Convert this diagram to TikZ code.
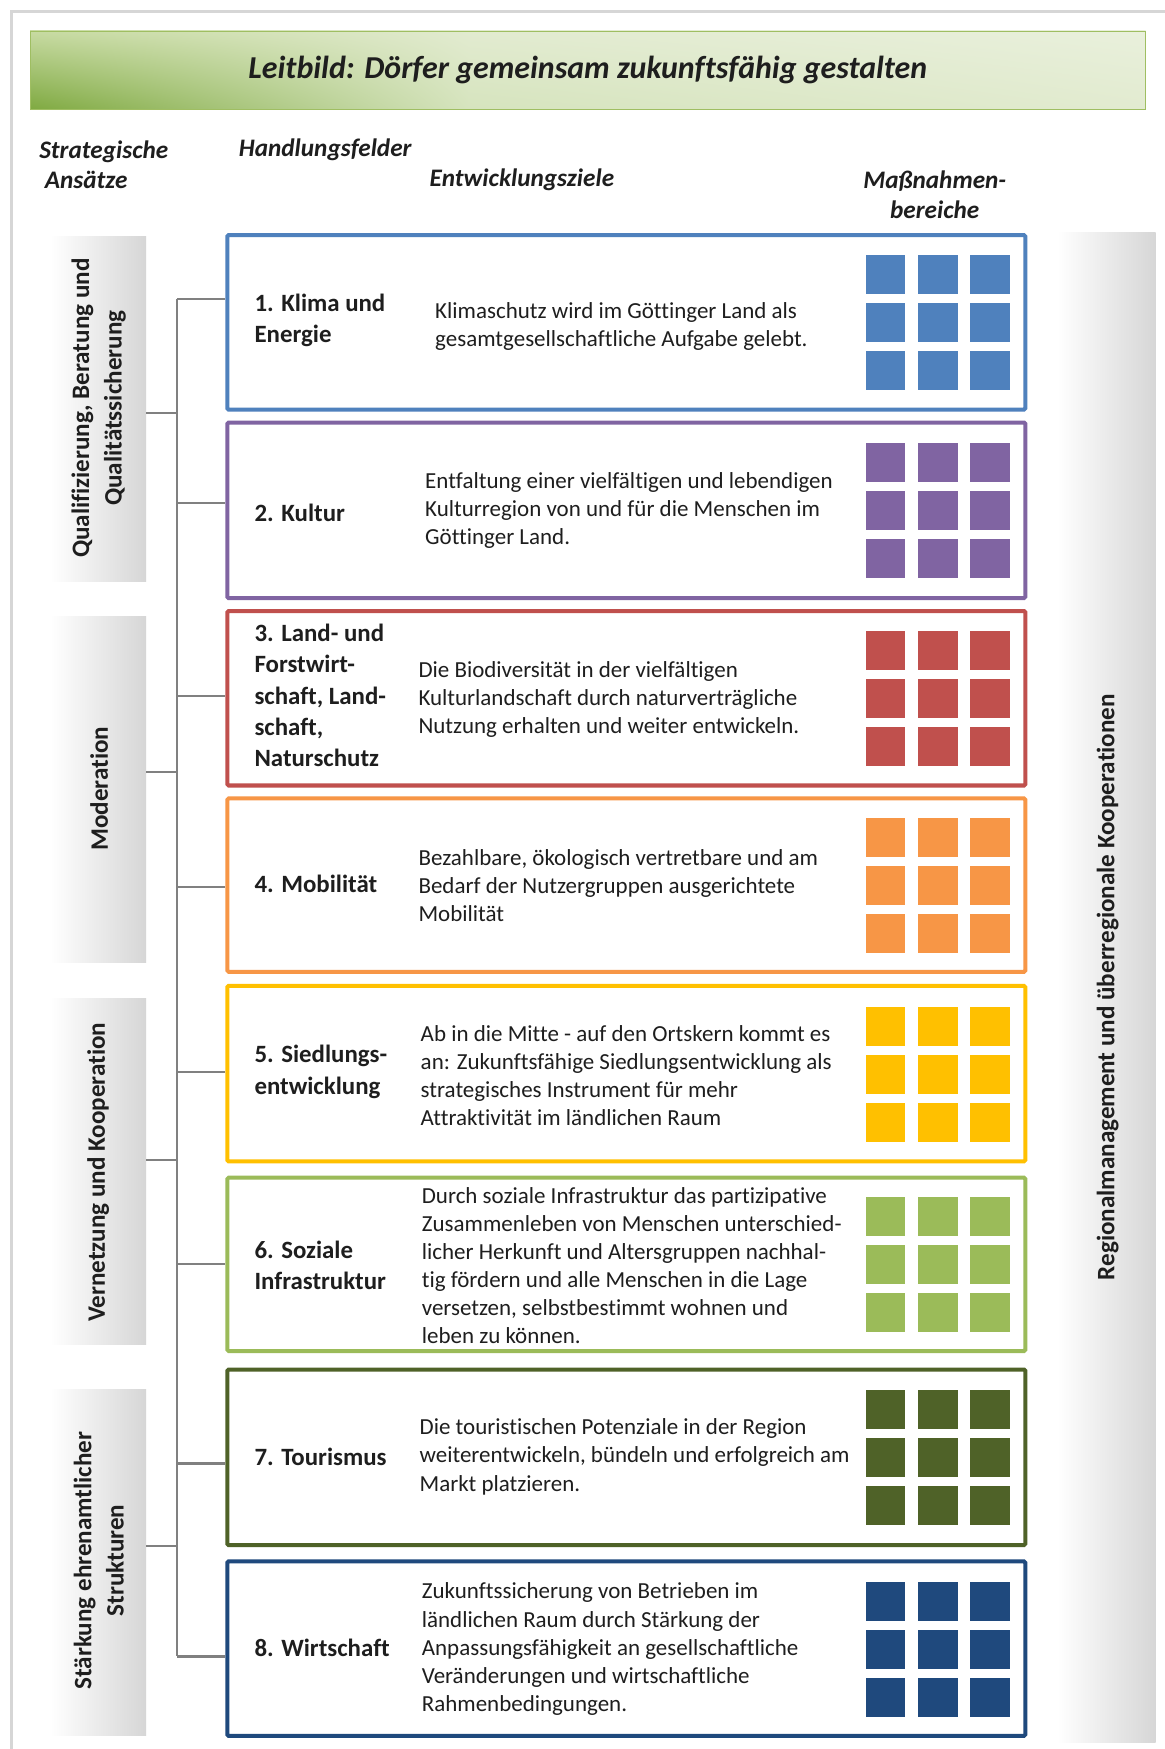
\documentclass[tikz,border=0pt]{standalone}
\usepackage{fontspec}
\setmainfont{Carlito}[Ligatures=NoCommon]
\usetikzlibrary{shadings}
\definecolor{c1}{HTML}{4F81BD}
\definecolor{c2}{HTML}{8064A2}
\definecolor{c3}{HTML}{C0504D}
\definecolor{c4}{HTML}{F79646}
\definecolor{c5}{HTML}{FFC000}
\definecolor{c6}{HTML}{9BBB59}
\definecolor{c7}{HTML}{4F6228}
\definecolor{c8}{HTML}{1F497D}
\definecolor{framegray}{HTML}{D6D6D6}
\definecolor{treegray}{HTML}{808080}
\definecolor{bannerline}{HTML}{9FBE62}
\definecolor{txt}{HTML}{1E1E1E}
\definecolor{barright}{HTML}{D6D6D6}
\definecolor{gUL}{HTML}{C8DBA3}
\definecolor{gLL}{HTML}{80AA42}
\definecolor{gMU}{HTML}{E2EBD0}
\definecolor{gML}{HTML}{D6E4BE}
\definecolor{gUR}{HTML}{E9F0DC}
\definecolor{gLR}{HTML}{E2EBD0}
\tikzset{
  hbox/.style={rectangle, line width=3.6bp, rounded corners=1.2bp, minimum width=715.4bp, inner sep=0pt, fill=white},
  bodytxt/.style={anchor=west, align=left, inner sep=0pt, text=txt, font=\fontsize{20.6bp}{25.2bp}\selectfont},
  labeltxt/.style={anchor=west, align=left, inner sep=0pt, text=txt, font=\fontsize{22.3bp}{28bp}\selectfont\bfseries},
  headtxt/.style={inner sep=0pt, text=txt, font=\fontsize{22.6bp}{27bp}\selectfont\bfseries\itshape},
  sidebar/.style={rectangle, inner sep=0pt, left color=white, right color=barright, minimum width=86bp},
  sidetxt/.style={rotate=90, align=center, inner sep=0pt, text=txt, font=\fontsize{22.5bp}{29bp}\selectfont\bfseries},
  tree/.style={draw=treegray, line width=2bp}
}
\begin{document}
\begin{tikzpicture}[x=1bp,y=-1bp]
\useasboundingbox (0,0) rectangle (1044,1568);
\fill[white] (0,0) rectangle (1044,1568);
% outer frame
\draw[framegray, line width=2.6bp] (1044,10.5) -- (10.5,10.5) -- (10.5,1568);
% banner
\shade[upper left=gUL, lower left=gLL, upper right=gMU, lower right=gML] (27,27) rectangle (420,97);
\shade[upper left=gMU, lower left=gML, upper right=gUR, lower right=gLR] (419.5,27) rectangle (1027,97);
\node[draw=bannerline, line width=1bp, minimum width=1000bp, minimum height=70bp, inner sep=0pt,
      text=txt, font=\fontsize{28.6bp}{32bp}\selectfont\bfseries\itshape] (title) at (527,63)
  {Leitbild: Dörfer gemeinsam zukunftsfähig gestalten};
% column headers
\node[headtxt, anchor=west, align=left] (h1) at (35,147.5) {Strategische\\\hspace*{5bp}Ansätze};
\node[headtxt, anchor=west] (h2) at (214,134) {Handlungsfelder};
\node[headtxt, anchor=west] (h3) at (385,161) {Entwicklungsziele};
\node[headtxt, align=center] (h4) at (838,174.5) {Maßnahmen-\\bereiche};
% side bars
\node[sidebar, minimum height=309bp] (s1) at (88,366.5) {};
\node[sidebar, minimum height=310bp] (s2) at (88,708) {};
\node[sidebar, minimum height=310bp] (s3) at (88,1050) {};
\node[sidebar, minimum height=310bp] (s4) at (88,1401) {};
\node[sidetxt] (st1) at (88.5,366) {Qualifizierung, Beratung und\\Qualitätssicherung};
\node[sidetxt] (st2) at (89,707) {Moderation};
\node[sidetxt] (st3) at (88,1051) {Vernetzung und Kooperation};
\node[sidetxt] (st4) at (88.5,1399) {Stärkung ehrenamtlicher\\Strukturen};
% right bar
\node[rectangle, inner sep=0pt, left color=white, right color=barright, minimum width=88bp, minimum height=1354bp] (rb) at (992,885) {};
\node[sidetxt] (rbt) at (993,885) {Regionalmanagement und überregionale Kooperationen};
% boxes
\foreach \i/\cy/\h in {1/289/156.4, 2/457.5/157.4, 3/626/156.4, 4/793.5/155.4, 5/962.5/157.4, 6/1133.5/155.4, 7/1306.5/157.4, 8/1478/156.4}{
  \node[hbox, draw=c\i, minimum height=\h bp] (b\i) at (561.5,\cy) {};
  \foreach \dx in {776,823,870}{
    \foreach \dy in {-60,-17,26}{
      \fill[c\i] (\dx,\cy+\dy) rectangle ++(35.5,35);
    }
  }
}
% labels
\node[labeltxt] (l1) at (228,287.5) {1. Klima und\\Energie};
\node[labeltxt] (l2) at (228,460) {2. Kultur};
\node[labeltxt] (l3) at (228,623.5) {3. Land- und\\Forstwirt-\\schaft, Land-\\schaft,\\Naturschutz};
\node[labeltxt] (l4) at (228,792) {4. Mobilität};
\node[labeltxt] (l5) at (228,961) {5. Siedlungs-\\entwicklung};
\node[labeltxt] (l6) at (228,1134.5) {6. Soziale\\Infrastruktur};
\node[labeltxt] (l7) at (228,1306) {7. Tourismus};
\node[labeltxt] (l8) at (228,1477) {8. Wirtschaft};
% descriptions
\node[bodytxt] (d1) at (390,293) {Klimaschutz wird im Göttinger Land als\\gesamtgesellschaftliche Aufgabe gelebt.};
\node[bodytxt] (d2) at (381,458) {Entfaltung einer vielfältigen und lebendigen\\Kulturregion von und für die Menschen im\\Göttinger Land.};
\node[bodytxt] (d3) at (375,627) {Die Biodiversität in der vielfältigen\\Kulturlandschaft durch naturverträgliche\\Nutzung erhalten und weiter entwickeln.};
\node[bodytxt] (d4) at (375,794) {Bezahlbare, ökologisch vertretbare und am\\Bedarf der Nutzergruppen ausgerichtete\\Mobilität};
\node[bodytxt] (d5) at (377,964.5) {Ab in die Mitte - auf den Ortskern kommt es\\an: Zukunftsfähige Siedlungsentwicklung als\\strategisches Instrument für mehr\\Attraktivität im ländlichen Raum};
\node[bodytxt] (d6) at (378,1134.5) {Durch soziale Infrastruktur das partizipative\\Zusammenleben von Menschen unterschied-\\licher Herkunft und Altersgruppen nachhal-\\tig fördern und alle Menschen in die Lage\\versetzen, selbstbestimmt wohnen und\\leben zu können.};
\node[bodytxt] (d7) at (376,1306) {Die touristischen Potenziale in der Region\\weiterentwickeln, bündeln und erfolgreich am\\Markt platzieren.};
\node[bodytxt] (d8) at (378,1478.5) {Zukunftssicherung von Betrieben im\\ländlichen Raum durch Stärkung der\\Anpassungsfähigkeit an gesellschaftliche\\Veränderungen und wirtschaftliche\\Rahmenbedingungen.};
% tree connectors
\coordinate (t1) at (158.5,268);
\coordinate (t2) at (158.5,451);
\coordinate (t3) at (158.5,624);
\coordinate (t4) at (158.5,795);
\coordinate (t5) at (158.5,961);
\coordinate (t6) at (158.5,1133);
\coordinate (t7) at (158.5,1312);
\coordinate (t8) at (158.5,1485);
\coordinate (j1) at (158.5,370);
\coordinate (j2) at (158.5,692);
\coordinate (j3) at (158.5,1040);
\coordinate (j4) at (158.5,1386);
\draw[tree] (t1) -- (t8);
\foreach \i in {1,...,8}{ \draw[tree] (t\i) -- (t\i -| b\i.west); }
\foreach \i in {1,...,4}{ \draw[tree] (j\i -| s\i.east) -- (j\i); }
\end{tikzpicture}
\end{document}
